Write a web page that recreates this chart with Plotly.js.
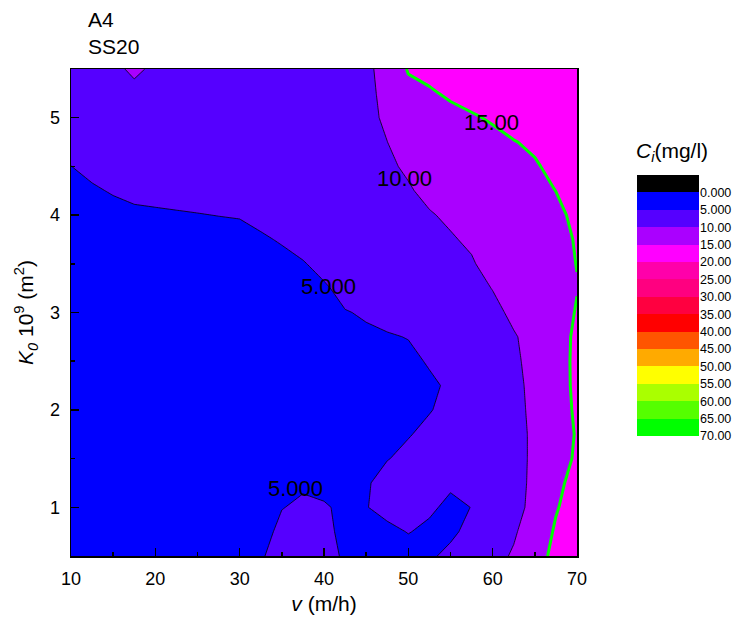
<!DOCTYPE html>
<html>
<head>
<meta charset="utf-8">
<script src="https://cdn.plot.ly/plotly-3.0.1.min.js"></script>
<style>html,body{margin:0;padding:0;background:#fff;}#chart{width:737px;height:624px;}</style>
</head>
<body>
<div id="chart"></div>
<script>
// flow velocity v (m/h) — grid columns
const vValues = [10, 12.5, 15, 17.5, 20, 22.5, 25, 27.5, 30, 32.5, 35, 37.5, 40, 42.5, 45, 47.5, 50, 52.5, 55, 57.5, 60, 62.5, 65, 67.5, 70];
// K0 * 10^9 (m^2) — grid rows
const k0Values = [0.5, 0.75, 1.0, 1.25, 1.5, 1.75, 2.0, 2.25, 2.5, 2.75, 3.0, 3.25, 3.5, 3.75, 4.0, 4.25, 4.5, 4.75, 5.0, 5.25, 5.5];
// Ci (mg/l), one row per K0 value
const ciValues = [
  [2.6, 2.7, 2.8, 2.9, 3.0, 3.1, 3.2, 3.3, 3.6, 4.8, 5.8, 6.0, 5.8, 4.7, 4.3, 4.4, 4.5, 4.7, 5.5, 7.08, 8.67, 10.45, 13.3, 16.1, 17.5],
  [2.6, 2.7, 2.8, 2.9, 3.0, 3.1, 3.2, 3.3, 3.5, 4.4, 5.4, 5.6, 5.4, 4.6, 4.6, 4.7, 5.05, 4.75, 4.6, 5.6, 7.71, 9.5, 12.3, 15.5, 17.0],
  [2.6, 2.7, 2.8, 2.9, 3.0, 3.1, 3.2, 3.3, 3.4, 3.9, 4.95, 5.25, 5.1, 4.8, 4.95, 5.4, 5.6, 5.2, 4.73, 5.02, 6.97, 8.87, 11.0, 14.7, 16.8],
  [2.6, 2.7, 2.8, 2.9, 3.0, 3.1, 3.2, 3.2, 3.3, 3.5, 4.6, 4.8, 4.7, 4.5, 4.85, 5.5, 5.8, 5.7, 5.18, 5.35, 7.1, 8.9, 10.7, 13.8, 16.7],
  [2.7, 2.7, 2.8, 2.9, 3.0, 3.0, 3.1, 3.1, 3.2, 3.2, 4.2, 4.4, 4.0, 4.1, 4.5, 4.95, 5.3, 5.8, 6.3, 6.8, 7.5, 8.6, 10.77, 13.17, 15.58],
  [2.7, 2.8, 2.8, 2.9, 3.0, 3.0, 3.0, 3.0, 3.1, 3.1, 3.8, 4.0, 3.6, 3.8, 4.3, 4.6, 4.93, 5.28, 5.9, 6.6, 7.4, 8.6, 10.77, 13.05, 15.3],
  [2.8, 2.8, 2.9, 2.9, 3.0, 3.0, 3.0, 3.0, 3.0, 3.0, 3.5, 3.6, 3.4, 3.7, 4.3, 4.4, 4.6, 4.94, 5.31, 6.4, 7.4, 8.7, 11.0, 13.3, 15.55],
  [2.8, 2.9, 2.9, 3.0, 3.0, 3.0, 3.0, 3.0, 3.0, 3.0, 3.2, 3.3, 3.4, 3.8, 4.4, 4.5, 4.65, 4.8, 5.18, 6.2, 7.4, 8.8, 11.25, 13.5, 15.7],
  [2.9, 2.9, 3.0, 3.0, 3.0, 3.0, 3.0, 3.0, 3.0, 3.0, 3.0, 3.0, 3.6, 4.0, 4.6, 4.65, 4.72, 5.11, 5.7, 6.5, 7.6, 9.2, 11.45, 13.6, 15.7],
  [2.9, 3.0, 3.0, 3.0, 3.0, 3.0, 3.0, 3.0, 3.0, 3.0, 3.0, 3.35, 3.88, 4.41, 4.85, 4.9, 5.04, 5.6, 6.3, 7.1, 8.0, 9.6, 11.65, 13.6, 15.6],
  [3.0, 3.0, 3.0, 3.0, 3.0, 3.0, 3.0, 3.0, 3.0, 3.06, 3.48, 3.87, 4.37, 4.95, 5.1, 5.4, 6.0, 6.5, 7.0, 7.8, 8.69, 11.03, 12.3, 13.6, 15.2],
  [3.0, 3.0, 3.0, 3.0, 3.0, 3.0, 3.0, 3.04, 3.2, 3.64, 4.03, 4.39, 4.86, 5.33, 5.8, 6.2, 6.6, 7.0, 7.4, 8.3, 10.15, 11.5, 12.6, 13.8, 14.9],
  [3.0, 3.0, 3.0, 3.0, 3.12, 3.37, 3.56, 3.7, 3.84, 4.23, 4.58, 4.92, 5.35, 5.8, 6.3, 6.8, 7.3, 7.9, 8.6, 9.63, 11.48, 12.4, 13.3, 14.2, 15.05],
  [3.0, 3.07, 3.44, 3.6, 3.93, 4.11, 4.25, 4.36, 4.47, 4.81, 5.13, 5.44, 5.85, 6.26, 6.8, 7.4, 8.0, 8.8, 9.66, 10.6, 11.6, 12.6, 13.4, 14.4, 15.15],
  [3.25, 3.9, 4.31, 4.57, 4.74, 4.85, 4.94, 5.03, 5.1, 5.4, 5.69, 5.96, 6.34, 6.72, 7.2, 7.8, 8.6, 9.71, 10.62, 11.3, 12.0, 12.8, 13.6, 14.4, 15.6],
  [4.13, 4.73, 5.17, 5.54, 5.55, 5.59, 5.64, 5.69, 5.73, 5.98, 6.24, 6.48, 6.83, 7.18, 7.7, 8.9, 9.63, 10.95, 11.8, 12.4, 13.0, 13.6, 14.3, 15.02, 16.0],
  [4.98, 5.57, 6.04, 6.51, 6.36, 6.34, 6.33, 6.35, 6.37, 6.57, 6.79, 7.01, 7.32, 7.65, 8.3, 9.4, 10.55, 11.6, 12.5, 13.2, 13.8, 14.4, 14.86, 15.36, 16.2],
  [5.88, 6.4, 6.9, 7.48, 7.17, 7.08, 7.02, 7.01, 7.0, 7.15, 7.34, 7.53, 7.82, 8.11, 8.8, 9.98, 11.4, 12.4, 13.2, 13.9, 14.5, 14.94, 15.24, 15.8, 16.5],
  [6.75, 7.23, 7.77, 8.45, 7.98, 7.82, 7.71, 7.68, 7.63, 7.74, 7.9, 8.05, 8.31, 8.57, 9.2, 10.5, 12.3, 13.2, 14.0, 14.8, 15.2, 15.6, 16.0, 16.5, 17.0],
  [7.63, 8.06, 8.63, 9.42, 8.79, 8.56, 8.41, 8.34, 8.26, 8.32, 8.45, 8.57, 8.8, 9.03, 9.45, 10.6, 13.5, 14.6, 15.5, 15.7, 16.0, 16.3, 16.6, 17.0, 17.4],
  [8.5, 8.9, 9.5, 10.4, 9.6, 9.3, 9.1, 9.0, 8.9, 8.9, 9.0, 9.1, 9.3, 9.5, 9.6, 10.7, 15.4, 16.0, 16.3, 16.6, 16.9, 17.2, 17.5, 17.8, 18.0]
];
// contour levels and colour bands (band i lies below level i; band 0 is below 0)
const levelValues = [0, 5, 10, 15, 20, 25, 30, 35, 40, 45, 50, 55, 60, 65, 70];
const levelLabels = ['0.000', '5.000', '10.00', '15.00', '20.00', '25.00', '30.00', '35.00', '40.00', '45.00', '50.00', '55.00', '60.00', '65.00', '70.00'];
const bandColors = ['#000000', '#0000FF', '#5500FF', '#AA00FF', '#FF00FF', '#FF00AA', '#FF0080', '#FF0040', '#FF0000', '#FF5500', '#FFAA00', '#FFFF00', '#AAFF00', '#55FF00', '#00FF00'];
const bandIndex = bandColors.map((c, i) => i);
const highlightLevel = 15;
// contour line labels: text and where they sit (v, K0)
const lineLabelText = ['5.000', '10.00', '15.00', '5.000'];
const lineLabelV = [40.5, 49.5, 59.9, 36.6];
const lineLabelK = [3.27, 4.38, 4.95, 1.19];

const FONT = 'Liberation Sans, Arial, sans-serif';
const nL = levelValues.length;
const step = levelValues[1] - levelValues[0];
const contourScale = bandColors.map((c, i) => [i / nL, c]).concat([[1, bandColors[bandColors.length - 1]]]);

const traces = [
  {
    type: 'contour', x: vValues, y: k0Values, z: ciValues,
    autocontour: false,
    contours: {start: levelValues[0], end: levelValues[nL - 1], size: step, coloring: 'fill', showlabels: false},
    colorscale: contourScale, showscale: false,
    line: {color: '#000', width: 0.8, smoothing: 0},
    hoverinfo: 'skip'
  },
  {
    type: 'contour', x: vValues, y: k0Values, z: ciValues,
    autocontour: false,
    contours: {start: highlightLevel, end: highlightLevel, size: step, coloring: 'none', showlabels: false},
    showscale: false,
    line: {color: '#00FF00', width: 3, smoothing: 0},
    hoverinfo: 'skip'
  },
  {
    type: 'heatmap', x: [0], y: bandIndex, z: bandIndex.map(i => [i]),
    colorscale: bandColors.map((c, i) => [i / (bandColors.length - 1), c]),
    zmin: 0, zmax: bandColors.length - 1, showscale: false,
    xaxis: 'x2', yaxis: 'y2', hoverinfo: 'skip'
  }
];

const W = 737, H = 624, L = 71, R = 38, T = 69, B = 68;
const pw = W - L - R, ph = H - T - B;
const px = p => (p - L) / pw;
const py = p => (H - B - p) / ph;

const annotations = [
  {xref: 'paper', yref: 'paper', x: px(86), y: py(6), xanchor: 'left', yanchor: 'top', align: 'left',
   text: 'A4<br>SS20', showarrow: false, font: {size: 21, family: FONT}},
  {xref: 'paper', yref: 'paper', x: px(634), y: py(152), xanchor: 'left', yanchor: 'middle',
   text: '<i>C</i><sub><i>i</i></sub>(mg/l)', showarrow: false, font: {size: 21, family: FONT}}
].concat(lineLabelText.map((t, i) => ({
  xref: 'x', yref: 'y', x: lineLabelV[i], y: lineLabelK[i], xanchor: 'center', yanchor: 'middle',
  text: t, showarrow: false, font: {size: 22, family: FONT, color: '#000'}
})));

const layout = {
  width: W, height: H,
  margin: {l: L, r: R, t: T, b: B},
  paper_bgcolor: '#fff', plot_bgcolor: '#fff',
  font: {family: FONT, color: '#000'},
  showlegend: false,
  xaxis: {
    domain: [0, px(577)], range: [10, 70], dtick: 10, tick0: 10,
    ticks: 'inside', ticklen: 8, tickwidth: 1.5, tickcolor: '#000',
    minor: {dtick: 5, ticks: 'inside', ticklen: 4, tickwidth: 1.5, tickcolor: '#000'},
    showline: true, mirror: true, linewidth: 1.5, linecolor: '#000',
    showgrid: false, zeroline: false, ticklabelstandoff: 6,
    tickfont: {size: 18, family: FONT},
    title: {text: '<i>v</i> (m/h)', font: {size: 21, family: FONT}, standoff: 8}
  },
  yaxis: {
    domain: [0, 1], range: [0.5, 5.5], dtick: 1, tick0: 0,
    ticks: 'inside', ticklen: 8, tickwidth: 1.5, tickcolor: '#000',
    minor: {dtick: 0.5, ticks: 'inside', ticklen: 4, tickwidth: 1.5, tickcolor: '#000'},
    showline: true, mirror: true, linewidth: 1.5, linecolor: '#000',
    showgrid: false, zeroline: false, ticklabelstandoff: 6,
    tickfont: {size: 18, family: FONT},
    title: {text: '<i>K</i><sub><i>0</i></sub> 10<sup>9</sup> (m<sup>2</sup>)', font: {size: 21, family: FONT}, standoff: 10}
  },
  xaxis2: {domain: [px(637), px(699)], range: [-0.5, 0.5], anchor: 'y2', visible: false, fixedrange: true},
  yaxis2: {
    domain: [py(436), py(175)], range: [bandColors.length - 0.5, -0.5], anchor: 'x2', side: 'right',
    tickvals: levelValues.map((v, i) => i + 0.5), ticktext: levelLabels,
    ticks: '', showline: false, showgrid: false, zeroline: false,
    tickfont: {size: 12.5, family: FONT}, fixedrange: true
  },
  annotations: annotations
};

Plotly.newPlot('chart', traces, layout, {displayModeBar: false, staticPlot: true});
</script>
</body>
</html>
